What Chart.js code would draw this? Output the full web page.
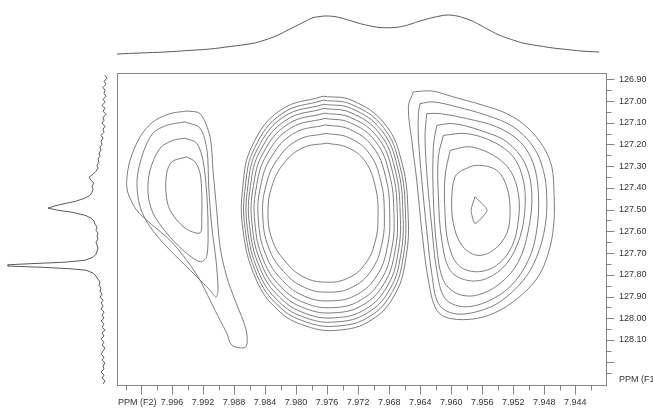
<!DOCTYPE html>
<html>
<head>
<meta charset="utf-8">
<title>HSQC contour plot</title>
<script src="https://cdn.jsdelivr.net/npm/chart.js@4.4.1/dist/chart.umd.min.js"></script>
<style>
  html, body { margin: 0; padding: 0; background: #fff; }
  #wrap { position: relative; width: 653px; height: 409px; overflow: hidden; }
  #wrap canvas { position: absolute; left: 0; top: 0; }
</style>
</head>
<body>
<div id="wrap">
  <canvas id="main" width="653" height="409"></canvas>
  <canvas id="proj2" width="653" height="66"></canvas>
  <canvas id="proj1" width="117" height="409"></canvas>
</div>
<script>
// ---- axis ticks (ppm) ----
const f2Ticks = [8.002, 8.000, 7.998, 7.996, 7.994, 7.992, 7.990, 7.988, 7.986, 7.984, 7.982, 7.980,
  7.978, 7.976, 7.974, 7.972, 7.970, 7.968, 7.966, 7.964, 7.962, 7.960, 7.958, 7.956, 7.954,
  7.952, 7.950, 7.948, 7.946, 7.944, 7.942];
const f1Ticks = [126.90, 126.95, 127.00, 127.05, 127.10, 127.15, 127.20, 127.25, 127.30, 127.35,
  127.40, 127.45, 127.50, 127.55, 127.60, 127.65, 127.70, 127.75, 127.80, 127.85, 127.90, 127.95,
  128.00, 128.05, 128.10, 128.15, 128.20, 128.25];
const f2Range = [7.9399, 8.0031];
const f1Range = [126.871, 128.312];

// ---- contour levels, [F2 ppm, F1 ppm] ----
const peakLeft = [
  [[7.99411,127.046],[7.99239,127.058],[7.99110,127.165],[7.99072,127.319],[7.99024,127.503],[7.98981,127.671],[7.98895,127.809],[7.98788,127.917],[7.98685,128.009],[7.98637,128.068],[7.98637,128.124],[7.98685,128.137],[7.98830,128.124],[7.98895,128.068],[7.98981,128.009],[7.99110,127.917],[7.99239,127.825],[7.99411,127.733],[7.99626,127.641],[7.99884,127.562],[8.00056,127.503],[8.00168,127.424],[8.00185,127.365],[8.00142,127.273],[8.00013,127.165],[7.99846,127.096],[7.99626,127.058]],
  [[7.99433,127.096],[7.99239,127.125],[7.99149,127.227],[7.99127,127.395],[7.99088,127.579],[7.99033,127.733],[7.99007,127.871],[7.99033,127.903],[7.99110,127.871],[7.99201,127.838],[7.99411,127.763],[7.99669,127.671],[7.99884,127.579],[8.00013,127.487],[8.00052,127.365],[7.99975,127.240],[7.99846,127.148],[7.99669,127.112]],
  [[7.99433,127.171],[7.99282,127.194],[7.99201,127.273],[7.99153,127.424],[7.99136,127.579],[7.99153,127.717],[7.99239,127.740],[7.99459,127.687],[7.99669,127.608],[7.99846,127.516],[7.99910,127.424],[7.99884,127.319],[7.99755,127.217],[7.99588,127.181]],
  [[7.99411,127.257],[7.99304,127.280],[7.99239,127.332],[7.99217,127.424],[7.99217,127.533],[7.99239,127.607],[7.99433,127.585],[7.99626,127.503],[7.99678,127.424],[7.99669,127.332],[7.99604,127.280]]
];

const peakMiddle = [
  [[7.97653,126.978],[7.97279,126.997],[7.96853,127.107],[7.96634,127.286],[7.96556,127.516],[7.96582,127.719],[7.96724,127.889],[7.97033,128.009],[7.97459,128.055],[7.97872,128.036],[7.98233,127.963],[7.98517,127.820],[7.98685,127.595],[7.98685,127.388],[7.98569,127.208],[7.98207,127.043]],
  [[7.97649,126.996],[7.97283,127.016],[7.96875,127.121],[7.96664,127.295],[7.96589,127.516],[7.96616,127.713],[7.96757,127.877],[7.97058,127.993],[7.97471,128.036],[7.97874,128.017],[7.98225,127.944],[7.98500,127.804],[7.98658,127.588],[7.98653,127.388],[7.98534,127.215],[7.98182,127.058]],
  [[7.97644,127.015],[7.97288,127.034],[7.96897,127.136],[7.96693,127.303],[7.96622,127.517],[7.96650,127.707],[7.96790,127.866],[7.97084,127.976],[7.97483,128.017],[7.97876,127.998],[7.98218,127.925],[7.98482,127.789],[7.98630,127.581],[7.98621,127.389],[7.98499,127.221],[7.98157,127.072]],
  [[7.97640,127.034],[7.97292,127.054],[7.96920,127.151],[7.96725,127.313],[7.96657,127.517],[7.96686,127.701],[7.96825,127.853],[7.97110,127.959],[7.97496,127.998],[7.97879,127.978],[7.98210,127.904],[7.98463,127.772],[7.98601,127.573],[7.98588,127.389],[7.98462,127.228],[7.98130,127.088]],
  [[7.97634,127.056],[7.97297,127.076],[7.96946,127.168],[7.96759,127.323],[7.96695,127.518],[7.96726,127.694],[7.96863,127.839],[7.97140,127.939],[7.97510,127.975],[7.97881,127.955],[7.98201,127.882],[7.98443,127.754],[7.98569,127.565],[7.98550,127.389],[7.98420,127.236],[7.98100,127.105]],
  [[7.97629,127.080],[7.97303,127.100],[7.96974,127.187],[7.96798,127.334],[7.96738,127.518],[7.96770,127.687],[7.96906,127.824],[7.97173,127.918],[7.97526,127.951],[7.97884,127.930],[7.98191,127.857],[7.98420,127.734],[7.98533,127.556],[7.98509,127.390],[7.98375,127.245],[7.98068,127.124]],
  [[7.97621,127.110],[7.97310,127.130],[7.97010,127.211],[7.96846,127.348],[7.96792,127.519],[7.96826,127.677],[7.96960,127.805],[7.97214,127.891],[7.97546,127.920],[7.97888,127.899],[7.98178,127.825],[7.98391,127.708],[7.98488,127.544],[7.98457,127.390],[7.98317,127.256],[7.98026,127.148]],
  [[7.97612,127.149],[7.97319,127.169],[7.97057,127.241],[7.96909,127.367],[7.96862,127.520],[7.96898,127.665],[7.97030,127.780],[7.97268,127.856],[7.97571,127.880],[7.97893,127.858],[7.98162,127.785],[7.98354,127.675],[7.98430,127.529],[7.98390,127.391],[7.98243,127.270],[7.97973,127.179]],
  [[7.97601,127.194],[7.97330,127.215],[7.97111,127.277],[7.96982,127.388],[7.96943,127.521],[7.96982,127.650],[7.97111,127.751],[7.97330,127.815],[7.97601,127.834],[7.97898,127.811],[7.98143,127.737],[7.98311,127.636],[7.98362,127.512],[7.98311,127.392],[7.98156,127.286],[7.97911,127.215]]
];

const peakRight = [
  [[7.96488,126.958],[7.96250,126.954],[7.95972,126.981],[7.95585,127.020],[7.95283,127.058],[7.95025,127.119],[7.94811,127.211],[7.94702,127.303],[7.94673,127.426],[7.94673,127.549],[7.94724,127.671],[7.94853,127.794],[7.95069,127.886],[7.95369,127.963],[7.95670,128.001],[7.96014,128.001],[7.96186,127.963],[7.96294,127.825],[7.96379,127.595],[7.96444,127.365],[7.96508,127.181],[7.96552,127.027]],
  [[7.96401,127.012],[7.96230,127.004],[7.95928,127.027],[7.95541,127.066],[7.95198,127.119],[7.94940,127.211],[7.94811,127.319],[7.94767,127.441],[7.94789,127.579],[7.94896,127.717],[7.95069,127.825],[7.95369,127.924],[7.95670,127.970],[7.95972,127.978],[7.96165,127.932],[7.96250,127.794],[7.96315,127.595],[7.96379,127.365],[7.96423,127.165],[7.96423,127.058]],
  [[7.96315,127.058],[7.96143,127.058],[7.95799,127.081],[7.95412,127.119],[7.95111,127.188],[7.94940,127.288],[7.94875,127.426],[7.94896,127.595],[7.95004,127.733],[7.95240,127.855],[7.95541,127.924],[7.95843,127.947],[7.96079,127.909],[7.96186,127.779],[7.96250,127.579],[7.96307,127.365],[7.96337,127.165]],
  [[7.96186,127.112],[7.95972,127.104],[7.95627,127.135],[7.95283,127.188],[7.95047,127.288],[7.94960,127.426],[7.95004,127.595],[7.95133,127.740],[7.95369,127.840],[7.95670,127.894],[7.95928,127.886],[7.96101,127.825],[7.96186,127.671],[7.96230,127.441],[7.96230,127.211]],
  [[7.96101,127.158],[7.95799,127.150],[7.95456,127.188],[7.95198,127.257],[7.95069,127.365],[7.95047,127.487],[7.95111,127.625],[7.95283,127.748],[7.95541,127.817],[7.95799,127.825],[7.96014,127.779],[7.96121,127.641],[7.96165,127.441],[7.96165,127.257]],
  [[7.96014,127.227],[7.95756,127.211],[7.95456,127.250],[7.95240,127.319],[7.95133,127.426],[7.95133,127.549],[7.95218,127.671],[7.95412,127.756],[7.95670,127.786],[7.95907,127.756],[7.96036,127.656],[7.96079,127.518],[7.96079,127.349]],
  [[7.95863,127.319],[7.95670,127.296],[7.95412,127.319],[7.95283,127.395],[7.95240,127.503],[7.95283,127.610],[7.95456,127.687],[7.95670,127.710],[7.95863,127.664],[7.95972,127.564],[7.95992,127.441],[7.95950,127.349]],
  [[7.95692,127.441],[7.95537,127.503],[7.95692,127.564],[7.95743,127.503]]
];

// ---- F2 projection (top trace) ----
const f2ProjPpm = [8.0031, 8.00013, 7.99691, 7.99394, 7.99110, 7.98852, 7.98569, 7.98401, 7.98246, 7.98104,
  7.97975, 7.97872, 7.97795, 7.97691, 7.97614, 7.97511, 7.97420, 7.97304, 7.97201, 7.97072,
  7.96917, 7.96737, 7.96608, 7.96517, 7.96401, 7.96234, 7.96143, 7.96053, 7.95924, 7.95834,
  7.95743, 7.95627, 7.95511, 7.95395, 7.95279, 7.95163, 7.95047, 7.94853, 7.94686, 7.94505,
  7.94324, 7.94092];
const f2ProjInt = [12, 14, 16, 19, 22, 27, 33, 40, 49, 60,
  70, 78, 84, 87, 88, 87, 84, 79, 74, 69,
  65, 65, 68, 72, 78, 85, 88, 90, 88, 84,
  79, 70, 60, 51, 44, 38, 33, 28, 24, 21,
  18, 16];

// ---- F1 projection (left trace) ----
const f1ProjPpm = [126.882, 126.895, 126.909, 126.923, 126.937, 126.951, 126.964, 126.978, 126.992, 127.006,
  127.020, 127.033, 127.047, 127.061, 127.075, 127.089, 127.102, 127.116, 127.130, 127.144,
  127.158, 127.171, 127.185, 127.199, 127.213, 127.227, 127.240, 127.254, 127.268, 127.282,
  127.296, 127.309, 127.323, 127.337, 127.351, 127.365, 127.378, 127.392, 127.406, 127.420,
  127.434, 127.447, 127.461, 127.475, 127.484, 127.493, 127.503, 127.512,
  127.526, 127.539, 127.553, 127.567, 127.581, 127.595, 127.608, 127.622, 127.636, 127.650,
  127.664, 127.677, 127.691, 127.705, 127.719,
  127.733, 127.742, 127.749, 127.754, 127.760, 127.765, 127.772, 127.779,
  127.792, 127.806, 127.820, 127.834, 127.848, 127.861, 127.875, 127.889, 127.903, 127.917,
  127.930, 127.944, 127.958, 127.972, 127.986, 127.999, 128.013, 128.027, 128.041, 128.055,
  128.068, 128.082, 128.096, 128.110, 128.124, 128.137, 128.151, 128.165, 128.179, 128.193,
  128.206, 128.220, 128.234, 128.248, 128.262, 128.275, 128.289, 128.303];
const f1ProjInt = [3, 1, 4, 2, 5, 3, 4, 2, 5, 3,
  6, 3, 5, 2, 5, 4, 6, 3, 5, 4,
  7, 5, 7, 6, 8, 7, 9, 8, 10, 9,
  11, 10, 12, 15, 19, 17, 14, 16, 15, 16,
  18, 23, 32, 46, 54, 60, 50, 36,
  23, 17, 14, 13, 11, 12, 10, 11, 10, 12,
  11, 10, 11, 12, 15,
  23, 43, 78, 100, 100, 68, 38, 22,
  15, 12, 10, 8, 9, 7, 8, 6, 8, 5,
  7, 5, 7, 4, 6, 4, 7, 4, 6, 3,
  6, 4, 7, 4, 6, 3, 5, 7, 4, 6,
  3, 5, 4, 7, 4, 6, 3, 5];

// ---- rendering ----
Chart.defaults.font.family = '"Liberation Sans", Arial, sans-serif';
Chart.defaults.font.size = 9;
Chart.defaults.color = '#333';

const isMajorF2 = v => Math.round(v * 1000) % 4 === 0;
const isMajorF1 = v => Math.round(v * 100) % 10 === 0;

const contourSet = (ring, tension) => ({
  data: ring.concat([ring[0]]).map(([x, y]) => ({ x, y })),
  showLine: true, pointRadius: 0, borderColor: '#7d7d7d', borderWidth: 1,
  tension, fill: false
});

// box around the plot, outward tick marks and axis titles
const frame = {
  id: 'frame',
  afterDraw(chart) {
    const { ctx, chartArea: a, scales } = chart;
    const L = Math.round(a.left) + 0.5, T = Math.round(a.top) + 0.5;
    const R = Math.round(a.right) - 0.5, B = Math.round(a.bottom) - 0.5;
    ctx.save();
    ctx.strokeStyle = '#858585';
    ctx.lineWidth = 1;
    ctx.strokeRect(L, T, R - L, B - T);
    ctx.beginPath();
    f2Ticks.forEach(v => {
      const p = Math.round(scales.x.getPixelForValue(v)) + 0.5;
      ctx.moveTo(p, B);
      ctx.lineTo(p, B + (isMajorF2(v) ? 9 : 5));
    });
    f1Ticks.forEach(v => {
      const p = Math.round(scales.y.getPixelForValue(v)) + 0.5;
      ctx.moveTo(R, p);
      ctx.lineTo(R + (isMajorF1(v) ? 8 : 5), p);
    });
    ctx.stroke();
    ctx.fillStyle = '#333';
    ctx.font = '9px "Liberation Sans", Arial, sans-serif';
    ctx.textBaseline = 'middle';
    ctx.textAlign = 'left';
    ctx.fillText('PPM (F2)', a.left + 1, a.bottom + 17);
    ctx.fillText('PPM (F1)', a.right + 12, a.bottom - 6);
    ctx.restore();
  }
};

new Chart(document.getElementById('main'), {
  type: 'scatter',
  data: {
    datasets: [
      ...peakLeft.map(r => contourSet(r, 0.3)),
      ...peakMiddle.map(r => contourSet(r, 0.42)),
      ...peakRight.map((r, i) => contourSet(r, i === peakRight.length - 1 ? 0.2 : 0.35))
    ]
  },
  options: {
    responsive: false, animation: false, devicePixelRatio: 1, events: [],
    layout: { padding: { left: 117, top: 73, right: 0, bottom: 0 } },
    plugins: { legend: { display: false }, tooltip: { enabled: false } },
    scales: {
      x: {
        type: 'linear', position: 'bottom', reverse: true,
        min: f2Range[0], max: f2Range[1],
        afterBuildTicks: s => { s.ticks = f2Ticks.map(v => ({ value: v })); },
        afterFit: s => { s.height = 23; },
        grid: { display: false, drawTicks: false },
        border: { display: false },
        ticks: {
          autoSkip: false, maxRotation: 0, minRotation: 0, padding: 11, color: '#333',
          callback: v => (isMajorF2(v) && Math.abs(v - 8) > 1e-6) ? v.toFixed(3) : ''
        }
      },
      y: {
        type: 'linear', position: 'right', reverse: true,
        min: f1Range[0], max: f1Range[1],
        afterBuildTicks: s => { s.ticks = f1Ticks.map(v => ({ value: v })); },
        afterFit: s => { s.width = 46; },
        grid: { display: false, drawTicks: false },
        border: { display: false },
        ticks: {
          autoSkip: false, padding: 12, color: '#333',
          callback: v => (isMajorF1(v) && Math.abs(v - 128.2) > 1e-6) ? v.toFixed(2) : ''
        }
      }
    }
  },
  plugins: [frame]
});

// F2 projection across the top
new Chart(document.getElementById('proj2'), {
  type: 'scatter',
  data: {
    datasets: [{
      data: f2ProjPpm.map((x, i) => ({ x, y: f2ProjInt[i] })),
      showLine: true, pointRadius: 0, borderColor: '#5a5a5a', borderWidth: 1, tension: 0.4, clip: false
    }]
  },
  options: {
    responsive: false, animation: false, devicePixelRatio: 1, events: [],
    layout: { padding: { left: 117, right: 46, top: 10, bottom: 6 } },
    plugins: { legend: { display: false }, tooltip: { enabled: false } },
    scales: {
      x: { type: 'linear', reverse: true, min: f2Range[0], max: f2Range[1], display: false },
      y: { type: 'linear', min: 0, max: 100, display: false }
    }
  }
});

// F1 projection down the left side
new Chart(document.getElementById('proj1'), {
  type: 'scatter',
  data: {
    datasets: [{
      data: f1ProjPpm.map((y, i) => ({ x: f1ProjInt[i], y })),
      showLine: true, pointRadius: 0, borderColor: '#5a5a5a', borderWidth: 1, tension: 0, clip: false
    }]
  },
  options: {
    responsive: false, animation: false, devicePixelRatio: 1, events: [],
    layout: { padding: { left: 8, right: 9, top: 73, bottom: 23 } },
    plugins: { legend: { display: false }, tooltip: { enabled: false } },
    scales: {
      x: { type: 'linear', reverse: true, min: 0, max: 100, display: false },
      y: { type: 'linear', reverse: true, min: f1Range[0], max: f1Range[1], display: false }
    }
  }
});
</script>
</body>
</html>
